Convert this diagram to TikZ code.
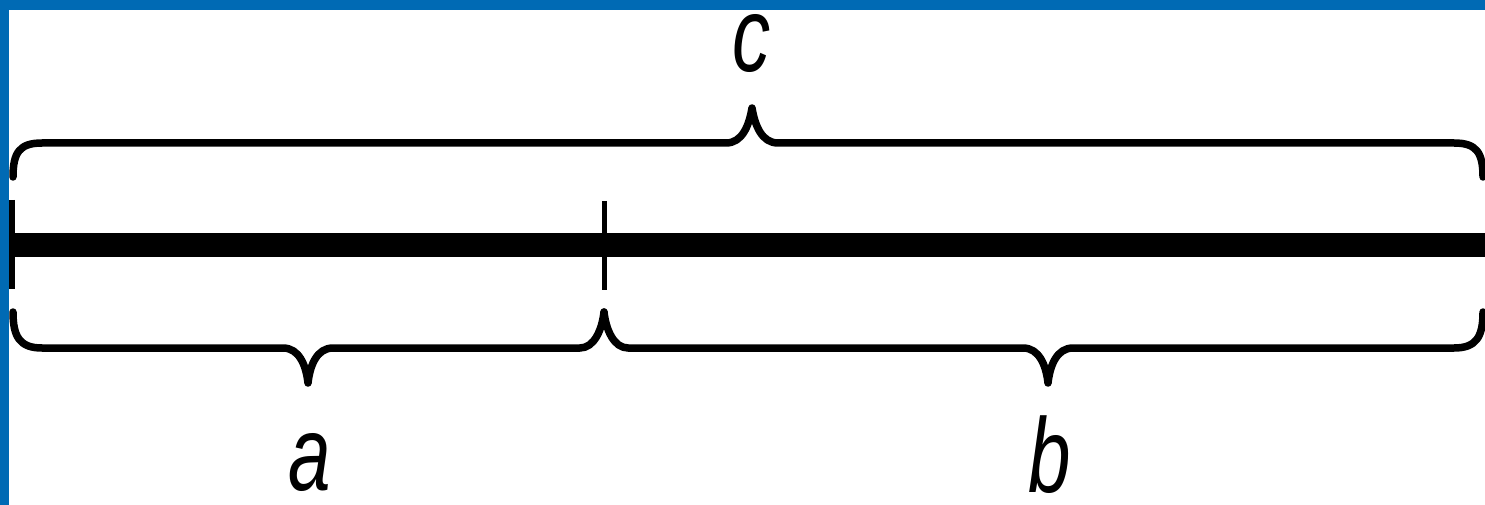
\documentclass[tikz,border=0pt]{standalone}
\usepackage{fontspec}
\setmainfont{Liberation Sans}
\newfontfamily\labelfont[FakeStretch=0.72]{Liberation Sans}
\definecolor{frameblue}{RGB}{0,106,180}
\tikzset{
  bracepath/.style={draw=black, line width=7.5pt, line join=round, line cap=round},
  seglabel/.style={inner sep=4pt, anchor=base,
    font=\labelfont\fontsize{106}{110}\selectfont\itshape},
  tickline/.style={draw=black, line width=5pt},
}
\begin{document}
\begin{tikzpicture}[x=1pt,y=-1pt]
\useasboundingbox (0,0) rectangle (1485,505);
\fill[white] (0,0) rectangle (1485,505);
% points
\coordinate (L) at (9,245);
\coordinate (R) at (1485,245);
\coordinate (TL) at (12,200);
\coordinate (BL) at (12,289);
\coordinate (TM) at (604,201);
\coordinate (BM) at (604,290);
% main segment
\draw[line width=24pt] (L) -- (R);
\draw[tickline, line width=6pt] (TL) -- (BL);
\draw[tickline] (TM) -- (BM);
% brace c (top)
\coordinate (c1) at (13,177);
\coordinate (ctip) at (752,108);
\coordinate (c2) at (1483,177);
\draw[bracepath] (c1) .. controls (13,152) and (20,143) .. (42,143)
  -- (726,143) .. controls (742,143) and (749,126) .. (ctip)
  .. controls (755,126) and (762,143) .. (778,143)
  -- (1454,143) .. controls (1476,143) and (1483,152) .. (c2);
% brace a (bottom left)
\coordinate (a1) at (13,312);
\coordinate (atip) at (308,383);
\coordinate (mid) at (604,312);
\draw[bracepath] (a1) .. controls (13,337) and (20,348) .. (42,348)
  -- (283,348) .. controls (299,348) and (306,365) .. (atip)
  .. controls (310,365) and (317,348) .. (333,348)
  -- (580,348) .. controls (594,348) and (602,330) .. (mid);
% brace b (bottom right)
\coordinate (btip) at (1048,383);
\coordinate (b2) at (1483,312);
\draw[bracepath] (mid) .. controls (606,330) and (614,348) .. (628,348)
  -- (1023,348) .. controls (1039,348) and (1046,365) .. (btip)
  .. controls (1050,365) and (1057,348) .. (1073,348)
  -- (1454,348) .. controls (1476,348) and (1483,337) .. (b2);
% labels
\node[seglabel] (c) at (752,72) {c};
\node[seglabel] (a) at (310,490) {a};
\node[seglabel] (b) at (1050,492) {b};
% frame
\fill[frameblue] (0,0) rectangle (1485,10);
\fill[frameblue] (0,0) rectangle (9,505);
\end{tikzpicture}
\end{document}
